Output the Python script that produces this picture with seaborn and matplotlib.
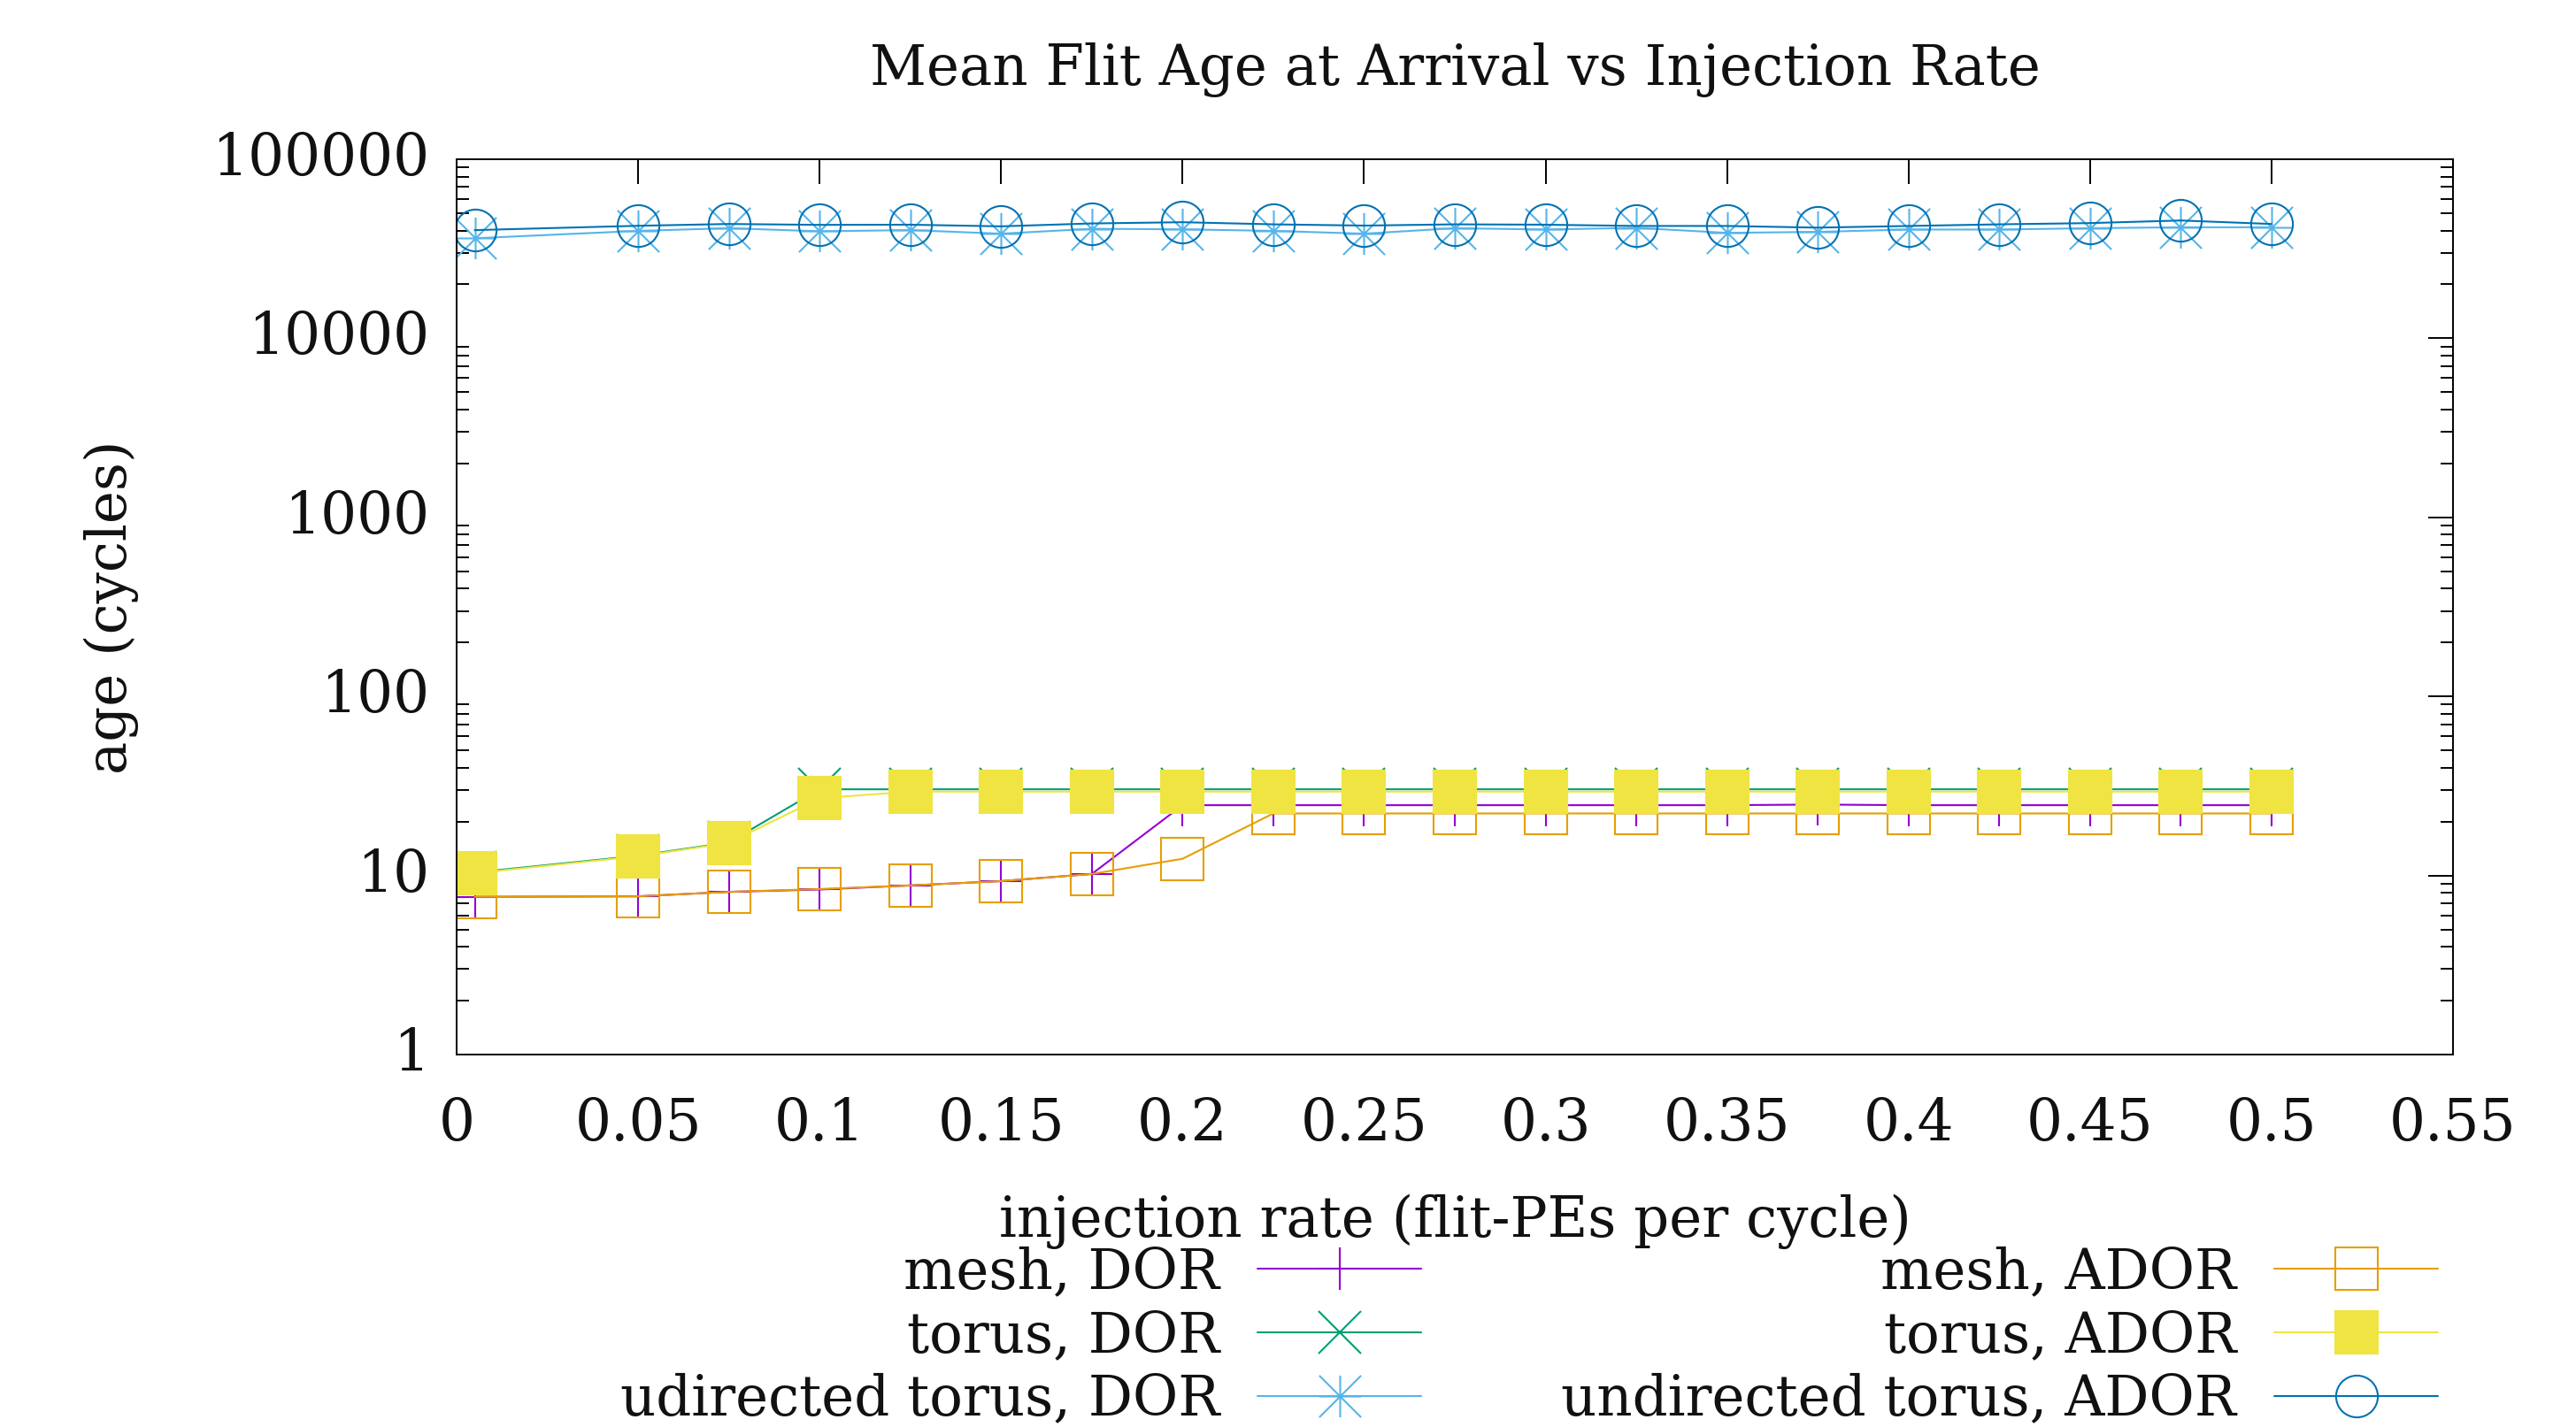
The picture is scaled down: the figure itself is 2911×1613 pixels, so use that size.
import matplotlib
matplotlib.use("Agg")
import matplotlib.pyplot as plt
from matplotlib import font_manager
from matplotlib.path import Path
from matplotlib.ticker import FixedLocator, LogLocator, NullFormatter
import seaborn as sns
import numpy as np

# ---------------- data ----------------
injection_rate = [0.005, 0.05, 0.075, 0.1, 0.125, 0.15, 0.175, 0.2, 0.225, 0.25,
                  0.275, 0.3, 0.325, 0.35, 0.375, 0.4, 0.425, 0.45, 0.475, 0.5]

mesh_dor = [7.6, 7.65, 8.1, 8.35, 8.8, 9.3, 10.2, 24.7, 24.7, 24.7,
            24.7, 24.7, 24.7, 24.7, 24.9, 24.7, 24.7, 24.7, 24.7, 24.7]
torus_dor = [10.4, 12.9, 15.3, 30.3, 30.3, 30.3, 30.3, 30.3, 30.3, 30.3,
             30.3, 30.3, 30.3, 30.3, 30.3, 30.3, 30.3, 30.3, 30.3, 30.3]
udir_torus_dor = [36200, 39800, 41200, 39600, 40200, 38400, 40900, 40600, 39800, 38400,
                  41200, 40500, 41400, 38800, 39300, 40500, 40500, 41200, 41700, 41700]
mesh_ador = [7.6, 7.65, 8.1, 8.4, 8.8, 9.3, 10.2, 12.4, 22.2, 22.2,
             22.2, 22.2, 22.2, 22.2, 22.2, 22.2, 22.2, 22.2, 22.2, 22.2]
torus_ador = [10.3, 12.8, 15.2, 27.0, 29.4, 29.4, 29.4, 29.4, 29.4, 29.4,
              29.4, 29.4, 29.4, 29.4, 29.4, 29.4, 29.4, 29.4, 29.4, 29.4]
undir_torus_ador = [40200, 42500, 43500, 43000, 43100, 42200, 43800, 44500, 43300, 42600,
                    43300, 43100, 42400, 42400, 41500, 42400, 43300, 44000, 45500, 43500]

series_labels = ["mesh, DOR", "torus, DOR", "udirected torus, DOR",
                 "mesh, ADOR", "torus, ADOR", "undirected torus, ADOR"]
series_values = [mesh_dor, torus_dor, udir_torus_dor, mesh_ador, torus_ador, undir_torus_ador]

x_ticks = [0, 0.05, 0.1, 0.15, 0.2, 0.25, 0.3, 0.35, 0.4, 0.45, 0.5, 0.55]
x_tick_labels = ["0", "0.05", "0.1", "0.15", "0.2", "0.25", "0.3", "0.35", "0.4", "0.45", "0.5", "0.55"]
y_ticks = [1, 10, 100, 1000, 10000, 100000]
y_tick_labels = ["1", "10", "100", "1000", "10000", "100000"]

# ---------------- style ----------------
sns.set_style("white")

def pick_font(name, fallback):
    try:
        font_manager.findfont(name, fallback_to_default=False)
        return name
    except Exception:
        return fallback

SERIF = "DejaVu Serif"
COND = pick_font("DejaVu Serif Condensed", SERIF)
TXT = 45 if COND == SERIF else 50
plt.rcParams["font.family"] = [SERIF]

colors = ["#9400d3", "#009e73", "#56b4e9", "#e69f00", "#f0e442", "#0072b2"]

star_path = Path(
    [(0, -1), (0, 1), (-1, -1), (1, 1), (-1, 1), (1, -1), (-1, 0), (1, 0)],
    [Path.MOVETO, Path.LINETO, Path.MOVETO, Path.LINETO,
     Path.MOVETO, Path.LINETO, Path.MOVETO, Path.LINETO],
)
markers = ["+", "x", star_path, "s", "s", "o"]
facecolors = [None, None, None, "none", "#f0e442", "none"]

W, H = 2911, 1613
fig = plt.figure(figsize=(W / 100, H / 100), dpi=100)
ax_l, ax_r, ax_t, ax_b = 516, 2772, 180, 1192
ax = fig.add_axes([ax_l / W, 1 - ax_b / H, (ax_r - ax_l) / W, (ax_b - ax_t) / H])

MS = 34
for lab, vals, col, mk, fc in zip(series_labels, series_values, colors, markers, facecolors):
    kw = dict(marker=mk, markersize=MS, markeredgewidth=1.5, markeredgecolor=col)
    if fc is not None:
        kw["markerfacecolor"] = fc
    sns.lineplot(x=injection_rate, y=vals, ax=ax, color=col, linewidth=1.5,
                 label=lab, estimator=None, sort=False, **kw)

ax.set_yscale("log")
ax.set_xlim(0, 0.55)
ax.set_ylim(1, 100000)

ax.xaxis.set_major_locator(FixedLocator(x_ticks))
ax.set_xticklabels(x_tick_labels)
ax.xaxis.set_minor_locator(FixedLocator([]))
ax.yaxis.set_major_locator(FixedLocator(y_ticks))
ax.set_yticklabels(y_tick_labels)
ax.yaxis.set_minor_locator(LogLocator(base=10, subs=np.arange(2, 10), numticks=20))
ax.yaxis.set_minor_formatter(NullFormatter())

for s in ax.spines.values():
    s.set_visible(True)
    s.set_color("black")
    s.set_linewidth(1.4)

ax.tick_params(axis="both", which="major", direction="in", length=20, width=1.4,
               top=True, right=True, labelsize=46.5, color="black", labelcolor="#111111")
ax.tick_params(axis="x", which="major", pad=34)
ax.tick_params(axis="y", which="major", pad=22)
ax.tick_params(axis="y", which="minor", direction="in", length=10, width=1.4,
               left=True, right=True, color="black")
for t in ax.get_xticklabels() + ax.get_yticklabels():
    t.set_fontfamily(SERIF)
for t in ax.get_yticklabels():
    t.set_va("center")

ax.set_xlabel("injection rate (flit-PEs per cycle)", fontsize=TXT, family=COND, color="#111111")
ax.xaxis.set_label_coords(0.5, (ax_b - 1381) / (ax_b - ax_t))
ax.xaxis.label.set_va("center")
ax.set_ylabel("age (cycles)", fontsize=TXT, family=COND, color="#111111")
ax.yaxis.set_label_coords((126 - ax_l) / (ax_r - ax_l), 0.5)
ax.yaxis.label.set_va("center")

fig.text((ax_l + ax_r) / 2 / W, 1 - 79 / H, "Mean Flit Age at Arrival vs Injection Rate",
         ha="center", va="center", fontsize=TXT, family=COND, color="#111111")

fs_px = TXT / 72 * 100
leg = ax.legend(loc="upper right", bbox_to_anchor=(2755 / W, 1 - 1408 / H),
                bbox_transform=fig.transFigure, ncol=2, markerfirst=False,
                frameon=False, borderpad=0, borderaxespad=0,
                handlelength=185 / fs_px, handletextpad=43 / fs_px,
                columnspacing=158 / fs_px, labelspacing=0.17,
                prop={"family": COND, "size": TXT}, numpoints=1)
for t in leg.get_texts():
    t.set_color("#111111")

fig.savefig("out.png", dpi=100, facecolor="white")
